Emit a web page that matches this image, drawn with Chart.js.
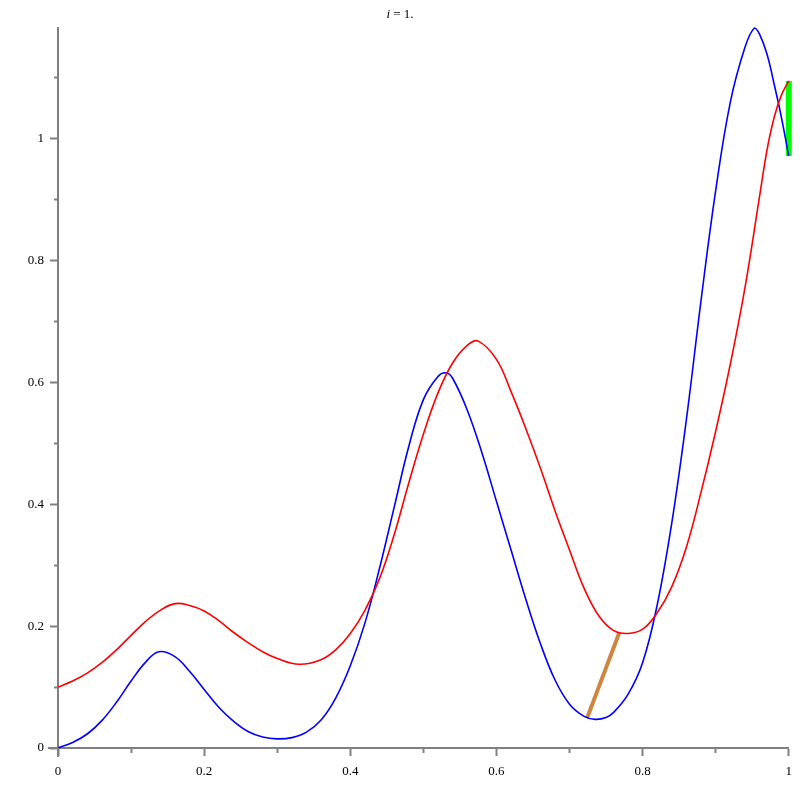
<!DOCTYPE html>
<html>
<head>
<meta charset="utf-8">
<script src="https://cdn.jsdelivr.net/npm/chart.js@4.4.1/dist/chart.umd.min.js"></script>
<style>
  body { margin: 0; background: #fff; }
  #wrap { width: 800px; height: 800px; }
</style>
</head>
<body>
<div id="wrap"><canvas id="myChart" width="800" height="800"></canvas></div>
<script>
// blue curve
var blueX = [0, 0.02, 0.04, 0.06, 0.08, 0.10, 0.12, 0.138, 0.16, 0.18, 0.20, 0.22, 0.24, 0.26, 0.28, 0.30,
    0.32, 0.34, 0.36, 0.38, 0.40, 0.42, 0.44, 0.46, 0.48, 0.50, 0.52, 0.531, 0.54, 0.56, 0.58, 0.60,
    0.62, 0.64, 0.66, 0.68, 0.70, 0.72, 0.735, 0.75, 0.76, 0.78, 0.80, 0.82, 0.84, 0.86, 0.88, 0.90,
    0.92, 0.94, 0.953, 0.96, 0.97, 0.98, 0.99, 1.0];
var blueY = [0, 0.009, 0.023, 0.045, 0.075, 0.110, 0.141, 0.158, 0.150, 0.126, 0.096, 0.067, 0.044, 0.027, 0.018, 0.015,
    0.017, 0.026, 0.046, 0.082, 0.135, 0.205, 0.295, 0.395, 0.495, 0.572, 0.610, 0.616, 0.607, 0.555, 0.485, 0.405,
    0.325, 0.245, 0.172, 0.112, 0.072, 0.052, 0.047, 0.050, 0.058, 0.088, 0.140, 0.235, 0.370, 0.540, 0.735, 0.915,
    1.060, 1.150, 1.182, 1.172, 1.140, 1.090, 1.035, 0.972];

// red curve
var redX = [0, 0.02, 0.04, 0.06, 0.08, 0.10, 0.12, 0.14, 0.16, 0.18, 0.20, 0.22, 0.24, 0.26, 0.28, 0.30,
    0.33, 0.36, 0.38, 0.40, 0.42, 0.44, 0.46, 0.48, 0.50, 0.52, 0.54, 0.56, 0.575, 0.60, 0.62, 0.64,
    0.66, 0.68, 0.70, 0.72, 0.74, 0.76, 0.78, 0.80, 0.82, 0.84, 0.86, 0.88, 0.90, 0.92, 0.94, 0.96,
    0.97, 0.98, 0.99, 1.0];
var redY = [0.100, 0.110, 0.123, 0.140, 0.161, 0.185, 0.208, 0.226, 0.237, 0.234, 0.225, 0.209, 0.190, 0.173, 0.158, 0.147,
    0.1375, 0.145, 0.161, 0.188, 0.226, 0.278, 0.350, 0.435, 0.515, 0.583, 0.632, 0.661, 0.668, 0.638, 0.585, 0.525,
    0.460, 0.390, 0.325, 0.262, 0.217, 0.193, 0.188, 0.195, 0.222, 0.265, 0.330, 0.420, 0.520, 0.630, 0.755, 0.905,
    0.980, 1.035, 1.072, 1.095];

// brown segment and green segment
var brownX = [0.724, 0.768];
var brownY = [0.049, 0.189];
var greenX = [1.0, 1.0];
var greenY = [0.972, 1.095];

var yMax = 1.182;

function pts(xs, ys) {
    var out = [];
    for (var i = 0; i < xs.length; i++) {
        out.push({x: xs[i], y: ys[i]});
    }
    return out;
}

function isMajor(v) {
    return Math.round(v * 10) % 2 === 0;
}

function tickText(v) {
    var t = Math.round(v * 10);
    if (t % 2 !== 0) return '';
    return String(t / 10);
}

var axisGray = '#808080';
var tickFont = {family: 'Liberation Serif', size: 13};

// axes in maple stick out a little past the origin
var axisExtend = {
    id: 'axisExtend',
    afterDraw: function (chart) {
        var c = chart.ctx;
        var xs = chart.scales.x, ys = chart.scales.y;
        var x0 = xs.getPixelForValue(0), y0 = ys.getPixelForValue(0);
        c.save();
        c.strokeStyle = axisGray;
        c.lineWidth = 2;
        c.beginPath();
        c.moveTo(x0 - 10, y0);
        c.lineTo(x0, y0);
        c.moveTo(x0, y0);
        c.lineTo(x0, y0 + 9);
        c.stroke();

        // title: italic i
        c.fillStyle = '#000';
        c.textBaseline = 'alphabetic';
        c.font = 'italic 13px "Liberation Serif"';
        var w1 = c.measureText('i').width;
        c.font = '13px "Liberation Serif"';
        var rest = ' = 1.';
        var w2 = c.measureText(rest).width;
        var left = 400 - (w1 + w2) / 2;
        c.font = 'italic 13px "Liberation Serif"';
        c.fillText('i', left, 18);
        c.font = '13px "Liberation Serif"';
        c.fillText(rest, left + w1, 18);
        c.restore();
    }
};

var ctx = document.getElementById('myChart');

var chart = new Chart(ctx, {
    type: 'scatter',
    data: {
        datasets: [
            {
                label: 'red',
                data: pts(redX, redY),
                showLine: true,
                borderColor: '#ff0000',
                borderWidth: 1.6,
                pointRadius: 0,
                tension: 0.4,
                clip: false
            },
            {
                label: 'blue',
                data: pts(blueX, blueY),
                showLine: true,
                borderColor: '#0000ff',
                borderWidth: 1.6,
                pointRadius: 0,
                tension: 0.4,
                clip: false
            },
            {
                label: 'brown',
                data: pts(brownX, brownY),
                showLine: true,
                borderColor: '#cd853f',
                borderWidth: 4,
                pointRadius: 0,
                clip: false
            },
            {
                label: 'green',
                data: pts(greenX, greenY),
                showLine: true,
                borderColor: '#00ff00',
                borderWidth: 6,
                borderCapStyle: 'butt',
                pointRadius: 0,
                clip: false
            }
        ]
    },
    options: {
        responsive: false,
        animation: false,
        layout: {padding: {top: 28, right: 11, left: 0, bottom: 0}},
        plugins: {
            legend: {display: false},
            tooltip: {enabled: false},
            title: {display: false}
        },
        scales: {
            x: {
                type: 'linear',
                min: 0,
                max: 1,
                afterFit: function (s) { s.height = 52; },
                border: {color: axisGray, width: 2},
                grid: {
                    drawOnChartArea: false,
                    tickLength: 8,
                    tickColor: axisGray,
                    tickWidth: 2,
                    tickBorderDash: [8, 100],
                    tickBorderDashOffset: function (c) { return isMajor(c.tick.value) ? 0 : 4; }
                },
                ticks: {
                    stepSize: 0.1,
                    includeBounds: false,
                    autoSkip: false,
                    maxRotation: 0,
                    padding: 8,
                    color: '#000',
                    font: tickFont,
                    callback: function (v) { return tickText(v); }
                }
            },
            y: {
                type: 'linear',
                min: 0,
                max: yMax,
                afterFit: function (s) { s.width = 58; },
                border: {color: axisGray, width: 2},
                grid: {
                    drawOnChartArea: false,
                    tickLength: 8,
                    tickColor: axisGray,
                    tickWidth: 2,
                    tickBorderDash: [8, 100],
                    tickBorderDashOffset: function (c) { return isMajor(c.tick.value) ? 0 : -4; }
                },
                ticks: {
                    stepSize: 0.1,
                    includeBounds: false,
                    autoSkip: false,
                    padding: 6,
                    color: '#000',
                    font: tickFont,
                    callback: function (v) { return tickText(v); }
                }
            }
        }
    },
    plugins: [axisExtend]
});
</script>
</body>
</html>
